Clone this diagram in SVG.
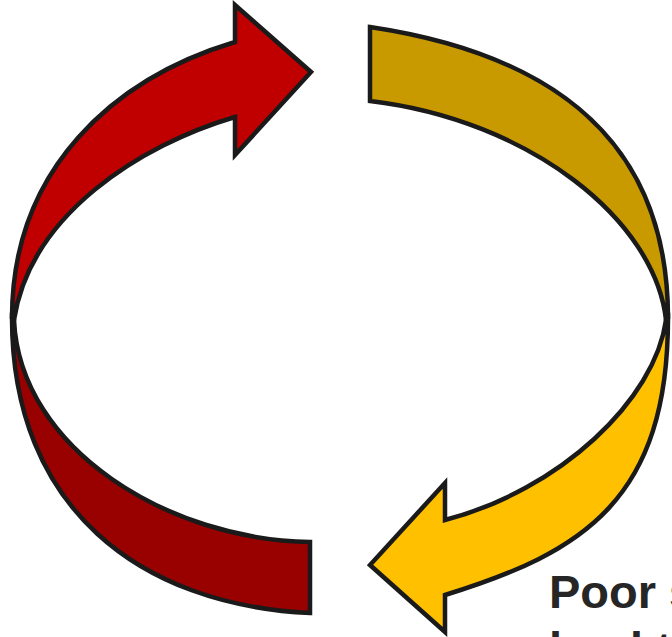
<svg xmlns="http://www.w3.org/2000/svg" width="672" height="637" viewBox="0 0 672 637">
<style>
.band{stroke:#1a1a1a;stroke-width:4.5;stroke-linejoin:miter}
.lbl{font-family:"Liberation Sans",Arial,sans-serif;font-weight:bold;font-size:47px;fill:#262626}
</style>
<rect width="672" height="637" fill="#ffffff"/>
<g id="connectors">
<g id="red-back"><path class="band" fill="#990000" d="M12,318 C12,508 140,605 310,613 L310,542 C170,540 20,450 14,320 Z"/></g>
<g id="red-arrow"><path class="band" fill="#C00000" d="M12,318 C12,168 115,78 235,42 L235,5 L311,72 L235,155 L235,117 C140,145 30,215 14,320 Z"/></g>
<g id="gold-back"><path class="band" fill="#C99A00" d="M370,27 C550,54 668,138 668,318 L666,320 C655,220 530,120 370,101 Z"/></g>
<g id="gold-arrow"><path class="band" fill="#FFC000" d="M668,318 C668,498 585,552 445,595 L445,632 L370,565 L445,483 L445,520 C560,490 655,400 666,320 Z"/></g>
</g>
<g id="label">
<text class="lbl" x="549" y="608">Poor s</text>
<text class="lbl" x="549" y="665">lead to</text>
</g>
</svg>
